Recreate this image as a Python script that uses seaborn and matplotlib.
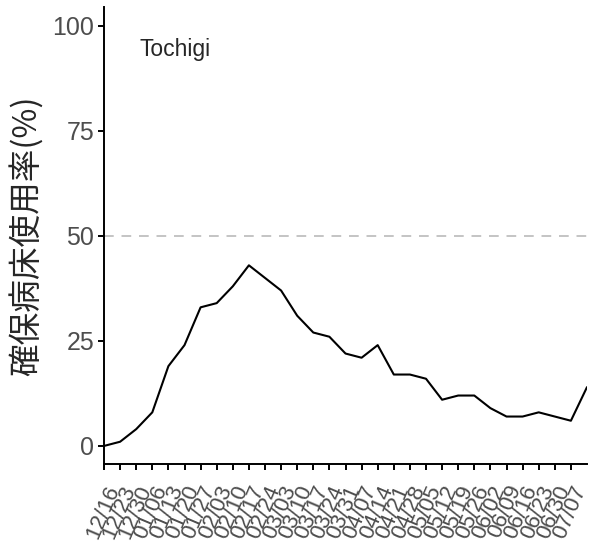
import numpy as np
import pandas as pd
import matplotlib
matplotlib.use('Agg')
import matplotlib.pyplot as plt
import seaborn as sns

# weekly dates (the last point has no label of its own)
dates = ['12/16', '12/23', '12/30', '01/06', '01/13', '01/20', '01/27', '02/03',
         '02/10', '02/17', '02/24', '03/03', '03/10', '03/17', '03/24', '03/31',
         '04/07', '04/14', '04/21', '04/28', '05/05', '05/12', '05/19', '05/26',
         '06/02', '06/09', '06/16', '06/23', '06/30', '07/07']
usage = [0, 1, 4, 8, 19, 24, 33, 34, 38, 43, 40, 37, 31, 27, 26, 22,
         21, 24, 17, 17, 16, 11, 12, 12, 9, 7, 7, 8, 7, 6, 14]
pref = 'Tochigi'

df = pd.DataFrame({'week': np.arange(len(usage)), 'usage': usage})

sns.set_style('ticks')
plt.rcParams['font.family'] = ['Liberation Sans', 'Noto Sans CJK JP', 'DejaVu Sans']

fig = plt.figure(figsize=(5.96, 5.48), dpi=100)
ax = fig.add_axes([104 / 596, (548 - 464) / 548, 483 / 596, 457 / 548])

ax.axhline(50, color='#c4c4c4', linestyle=(0, (5, 4)), linewidth=1.4, zorder=1)
sns.lineplot(data=df, x='week', y='usage', color='black', linewidth=1.5, ax=ax)

ax.set_xlim(0, len(usage) - 1)
ax.set_ylim(-4.3, 104.5)
ax.set_yticks([0, 25, 50, 75, 100])
ax.set_xticks(np.arange(len(dates)))
ax.set_xticklabels(dates, rotation=67, ha='right', rotation_mode='anchor', va='top')

ax.tick_params(axis='both', colors='black', width=1.4, length=4)
ax.tick_params(axis='y', labelsize=18, labelcolor='#4d4d4d', pad=3)
ax.tick_params(axis='x', labelsize=16, labelcolor='#4d4d4d', pad=9)
for s in ['left', 'bottom']:
    ax.spines[s].set_linewidth(1.4)
    ax.spines[s].set_color('black')
sns.despine(ax=ax)

ax.set_xlabel('')
ax.set_ylabel('確保病床使用率(%)', fontsize=23.5, family=['Noto Sans CJK JP'], labelpad=6)
ax.text(4.4, 94.3, pref, fontsize=16.5, ha='center', va='center')

fig.savefig('out.png', dpi=100)
